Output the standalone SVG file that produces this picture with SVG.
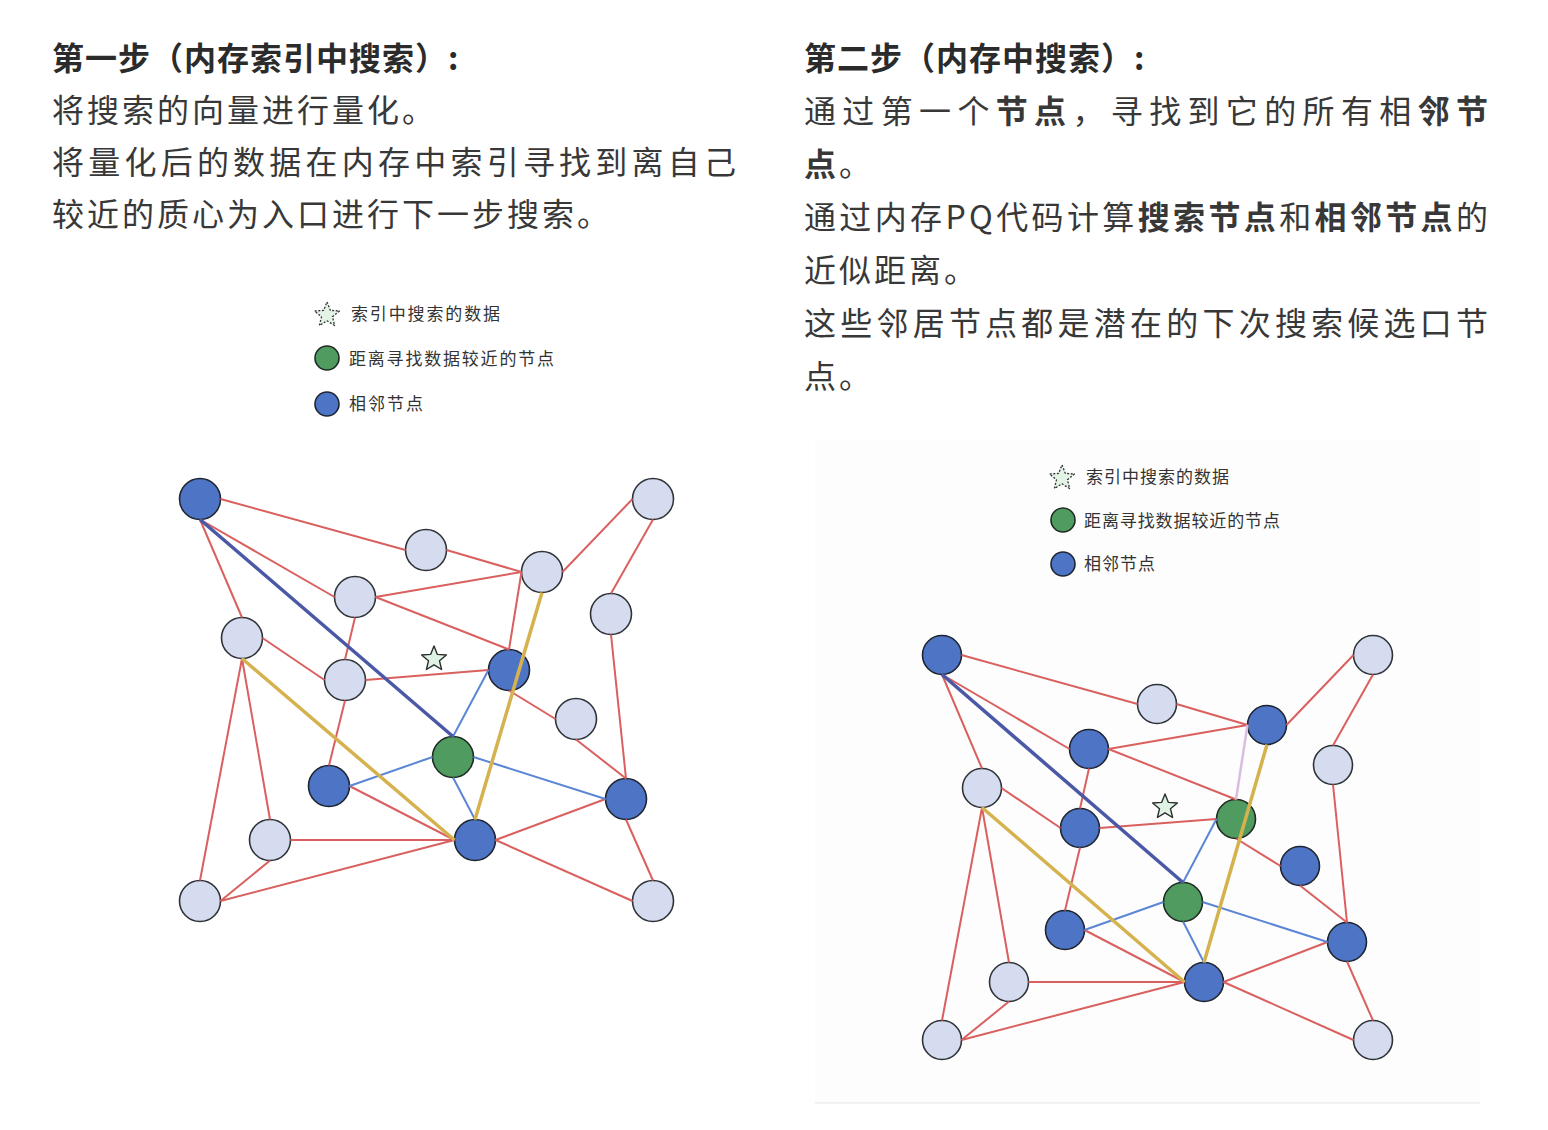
<svg xmlns="http://www.w3.org/2000/svg" xmlns:xlink="http://www.w3.org/1999/xlink" width="1548" height="1130" viewBox="0 0 1548 1130">
<style>
.t{font-family:"Noto Sans CJK SC","Noto Sans",sans-serif;font-size:32px;fill:#383838;letter-spacing:3px}
.j{letter-spacing:0}
.h{font-weight:bold;letter-spacing:1px;fill:#2b2b2b}
.b{font-weight:bold}
.lg{font-family:"Noto Sans CJK SC","Noto Sans",sans-serif;font-size:17px;fill:#333}
.light{fill:#d5dcef;stroke:#2f3338;stroke-width:1.6}
.blue{fill:#4d74c5;stroke:#1f2530;stroke-width:1.6}
.green{fill:#509b60;stroke:#1f2a22;stroke-width:1.6}
.r{stroke:#d9605f;stroke-width:2;fill:none}
.bl{stroke:#5b85d5;stroke-width:2;fill:none}
.nv{stroke:#4a58a6;stroke-width:3.5;fill:none}
.y{stroke:#d5b24e;stroke-width:3.5;fill:none}
.lv{stroke:#d9bde0;stroke-width:2.5;fill:none}
.star{fill:#def3e4;stroke:#2b2f2c;stroke-width:1.4;stroke-linejoin:round}
.lstar{fill:#e3f4e7;stroke:#333;stroke-width:1.3;stroke-dasharray:2 1.6;stroke-linejoin:round}
</style>
<defs>
<path id="starShape" d="M0,-13 L3.4,-4.6 L12.4,-4 L5.5,1.8 L7.6,10.5 L0,5.8 L-7.6,10.5 L-5.5,1.8 L-12.4,-4 L-3.4,-4.6 Z"/>
</defs>
<rect width="1548" height="1130" fill="#ffffff"/>
<rect x="815" y="440" width="665" height="663" fill="#fdfdfd"/>
<line x1="815" y1="1103" x2="1480" y2="1103" stroke="#eeeeee" stroke-width="1.5"/>

<g id="text-left">
<text class="t h" x="52" y="70">第一步（内存索引中搜索）:</text>
<text class="t" x="52" y="122">将搜索的向量进行量化。</text>
<text class="t j" x="52" y="174" textLength="684" lengthAdjust="spacing">将量化后的数据在内存中索引寻找到离自己</text>
<text class="t" x="52" y="226">较近的质心为入口进行下一步搜索。</text>
</g>
<g id="text-right">
<text class="t h" x="804" y="70">第二步（内存中搜索）:</text>
<text class="t j" x="804" y="123" textLength="684" lengthAdjust="spacing">通过第一个<tspan class="b">节点</tspan>，寻找到它的所有相<tspan class="b">邻节</tspan></text>
<text class="t" x="804" y="176"><tspan class="b">点</tspan>。</text>
<text class="t j" x="804" y="229" textLength="684" lengthAdjust="spacing">通过内存PQ代码计算<tspan class="b">搜索节点</tspan>和<tspan class="b">相邻节点</tspan>的</text>
<text class="t" x="804" y="282">近似距离。</text>
<text class="t j" x="804" y="335" textLength="684" lengthAdjust="spacing">这些邻居节点都是潜在的下次搜索候选口节</text>
<text class="t" x="804" y="388">点。</text>
</g>

<g id="legend-1">
<use xlink:href="#starShape" href="#starShape" class="lstar" transform="translate(327,315)"/>
<text class="lg" x="351" y="320" textLength="149" lengthAdjust="spacing">索引中搜索的数据</text>
<circle class="green" cx="327" cy="358" r="12"/>
<text class="lg" x="349" y="365" textLength="205" lengthAdjust="spacing">距离寻找数据较近的节点</text>
<circle class="blue" cx="327" cy="404" r="12"/>
<text class="lg" x="349" y="410" textLength="74" lengthAdjust="spacing">相邻节点</text>
</g>
<g id="legend-2">
<use xlink:href="#starShape" href="#starShape" class="lstar" transform="translate(1062,478)"/>
<text class="lg" x="1086" y="483" textLength="143" lengthAdjust="spacing">索引中搜索的数据</text>
<circle class="green" cx="1063" cy="520" r="12"/>
<text class="lg" x="1084" y="527" textLength="196" lengthAdjust="spacing">距离寻找数据较近的节点</text>
<circle class="blue" cx="1063" cy="564" r="12"/>
<text class="lg" x="1084" y="570" textLength="71" lengthAdjust="spacing">相邻节点</text>
</g>

<!-- Graph 1 nodes -->
<g id="g1-A"><circle class="blue" cx="200" cy="499" r="20.5"/></g>
<g id="g1-B"><circle class="light" cx="653" cy="499" r="20.5"/></g>
<g id="g1-C"><circle class="light" cx="426" cy="550" r="20.5"/></g>
<g id="g1-D"><circle class="light" cx="542" cy="572" r="20.5"/></g>
<g id="g1-E"><circle class="light" cx="355" cy="597" r="20.5"/></g>
<g id="g1-F"><circle class="light" cx="611" cy="614" r="20.5"/></g>
<g id="g1-G"><circle class="light" cx="242" cy="638" r="20.5"/></g>
<g id="g1-H"><circle class="light" cx="345" cy="680" r="20.5"/></g>
<g id="g1-I"><circle class="blue" cx="509" cy="670" r="20.5"/></g>
<g id="g1-J"><circle class="light" cx="576" cy="719" r="20.5"/></g>
<g id="g1-Q"><circle class="green" cx="453" cy="757" r="20.5"/></g>
<g id="g1-K"><circle class="blue" cx="329" cy="786" r="20.5"/></g>
<g id="g1-L"><circle class="blue" cx="626" cy="799" r="20.5"/></g>
<g id="g1-M"><circle class="light" cx="270" cy="840" r="20.5"/></g>
<g id="g1-N"><circle class="blue" cx="475" cy="840" r="20.5"/></g>
<g id="g1-O"><circle class="light" cx="200" cy="901" r="20.5"/></g>
<g id="g1-P"><circle class="light" cx="653" cy="901" r="20.5"/></g>
<g id="g1-star"><use xlink:href="#starShape" href="#starShape" class="star" transform="translate(434,659)"/></g>

<!-- Graph 2 nodes -->
<g id="g2-A"><circle class="blue" cx="942" cy="655" r="19.5"/></g>
<g id="g2-B"><circle class="light" cx="1373" cy="655" r="19.5"/></g>
<g id="g2-C"><circle class="light" cx="1157" cy="704" r="19.5"/></g>
<g id="g2-D"><circle class="blue" cx="1267" cy="725" r="19.5"/></g>
<g id="g2-E"><circle class="blue" cx="1089" cy="749" r="19.5"/></g>
<g id="g2-F"><circle class="light" cx="1333" cy="765" r="19.5"/></g>
<g id="g2-G"><circle class="light" cx="982" cy="788" r="19.5"/></g>
<g id="g2-H"><circle class="blue" cx="1080" cy="828" r="19.5"/></g>
<g id="g2-I"><circle class="green" cx="1236" cy="819" r="19.5"/></g>
<g id="g2-J"><circle class="blue" cx="1300" cy="866" r="19.5"/></g>
<g id="g2-Q"><circle class="green" cx="1183" cy="902" r="19.5"/></g>
<g id="g2-K"><circle class="blue" cx="1065" cy="930" r="19.5"/></g>
<g id="g2-L"><circle class="blue" cx="1347" cy="942" r="19.5"/></g>
<g id="g2-M"><circle class="light" cx="1009" cy="982" r="19.5"/></g>
<g id="g2-N"><circle class="blue" cx="1204" cy="982" r="19.5"/></g>
<g id="g2-O"><circle class="light" cx="942" cy="1040" r="19.5"/></g>
<g id="g2-P"><circle class="light" cx="1373" cy="1040" r="19.5"/></g>
<g id="g2-star"><use xlink:href="#starShape" href="#starShape" class="star" transform="translate(1165,807)"/></g>

<g id="connectors">
<!-- graph 1 -->
<line class="r" x1="220.5" y1="499" x2="405.5" y2="550"/>
<line class="r" x1="446.5" y1="550" x2="521.5" y2="572"/>
<line class="r" x1="200" y1="519.5" x2="334.5" y2="597"/>
<line class="r" x1="200" y1="519.5" x2="242" y2="617.5"/>
<line class="r" x1="375.5" y1="597" x2="521.5" y2="572"/>
<line class="r" x1="375.5" y1="597" x2="509" y2="649.5"/>
<line class="r" x1="521.5" y1="572" x2="509" y2="649.5"/>
<line class="r" x1="562.5" y1="572" x2="632.5" y2="499"/>
<line class="r" x1="653" y1="519.5" x2="611" y2="593.5"/>
<line class="r" x1="611" y1="634.5" x2="626" y2="778.5"/>
<line class="r" x1="355" y1="617.5" x2="345" y2="659.5"/>
<line class="r" x1="262.5" y1="638" x2="324.5" y2="680"/>
<line class="r" x1="365.5" y1="680" x2="488.5" y2="670"/>
<line class="r" x1="509" y1="690.5" x2="555.5" y2="719"/>
<line class="r" x1="576" y1="739.5" x2="626" y2="778.5"/>
<line class="r" x1="345" y1="700.5" x2="329" y2="765.5"/>
<line class="r" x1="242" y1="658.5" x2="270" y2="819.5"/>
<line class="r" x1="242" y1="658.5" x2="200" y2="880.5"/>
<line class="r" x1="349.5" y1="786" x2="454.5" y2="840"/>
<line class="r" x1="290.5" y1="840" x2="454.5" y2="840"/>
<line class="r" x1="220.5" y1="901" x2="270" y2="860.5"/>
<line class="r" x1="220.5" y1="901" x2="454.5" y2="840"/>
<line class="r" x1="495.5" y1="840" x2="605.5" y2="799"/>
<line class="r" x1="495.5" y1="840" x2="632.5" y2="901"/>
<line class="r" x1="626" y1="819.5" x2="653" y2="880.5"/>
<line class="bl" x1="453" y1="736.5" x2="488.5" y2="670"/>
<line class="bl" x1="432.5" y1="757" x2="349.5" y2="786"/>
<line class="bl" x1="473.5" y1="757" x2="605.5" y2="799"/>
<line class="bl" x1="453" y1="777.5" x2="475" y2="819.5"/>
<line class="nv" x1="200" y1="519.5" x2="453" y2="736.5"/>
<line class="y" x1="242" y1="658.5" x2="454.5" y2="840"/>
<line class="y" x1="542" y1="592.5" x2="475" y2="819.5"/>
<!-- graph 2 -->
<line class="r" x1="961.5" y1="655" x2="1137.5" y2="704"/>
<line class="r" x1="1176.5" y1="704" x2="1247.5" y2="725"/>
<line class="r" x1="942" y1="674.5" x2="1069.5" y2="749"/>
<line class="r" x1="942" y1="674.5" x2="982" y2="768.5"/>
<line class="r" x1="1108.5" y1="749" x2="1247.5" y2="725"/>
<line class="r" x1="1108.5" y1="749" x2="1236" y2="799.5"/>
<line class="lv" x1="1247.5" y1="725" x2="1236" y2="799.5"/>
<line class="r" x1="1286.5" y1="725" x2="1353.5" y2="655"/>
<line class="r" x1="1373" y1="674.5" x2="1333" y2="745.5"/>
<line class="r" x1="1333" y1="784.5" x2="1347" y2="922.5"/>
<line class="r" x1="1089" y1="768.5" x2="1080" y2="808.5"/>
<line class="r" x1="1001.5" y1="788" x2="1060.5" y2="828"/>
<line class="r" x1="1099.5" y1="828" x2="1216.5" y2="819"/>
<line class="r" x1="1236" y1="838.5" x2="1280.5" y2="866"/>
<line class="r" x1="1300" y1="885.5" x2="1347" y2="922.5"/>
<line class="r" x1="1080" y1="847.5" x2="1065" y2="910.5"/>
<line class="r" x1="982" y1="807.5" x2="1009" y2="962.5"/>
<line class="r" x1="982" y1="807.5" x2="942" y2="1020.5"/>
<line class="r" x1="1084.5" y1="930" x2="1184.5" y2="982"/>
<line class="r" x1="1028.5" y1="982" x2="1184.5" y2="982"/>
<line class="r" x1="961.5" y1="1040" x2="1009" y2="1001.5"/>
<line class="r" x1="961.5" y1="1040" x2="1184.5" y2="982"/>
<line class="r" x1="1223.5" y1="982" x2="1327.5" y2="942"/>
<line class="r" x1="1223.5" y1="982" x2="1353.5" y2="1040"/>
<line class="r" x1="1347" y1="961.5" x2="1373" y2="1020.5"/>
<line class="bl" x1="1183" y1="882.5" x2="1216.5" y2="819"/>
<line class="bl" x1="1163.5" y1="902" x2="1084.5" y2="930"/>
<line class="bl" x1="1202.5" y1="902" x2="1327.5" y2="942"/>
<line class="bl" x1="1183" y1="921.5" x2="1204" y2="962.5"/>
<line class="nv" x1="942" y1="674.5" x2="1183" y2="882.5"/>
<line class="y" x1="982" y1="807.5" x2="1184.5" y2="982"/>
<line class="y" x1="1267" y1="744.5" x2="1204" y2="962.5"/>
</g>
</svg>
